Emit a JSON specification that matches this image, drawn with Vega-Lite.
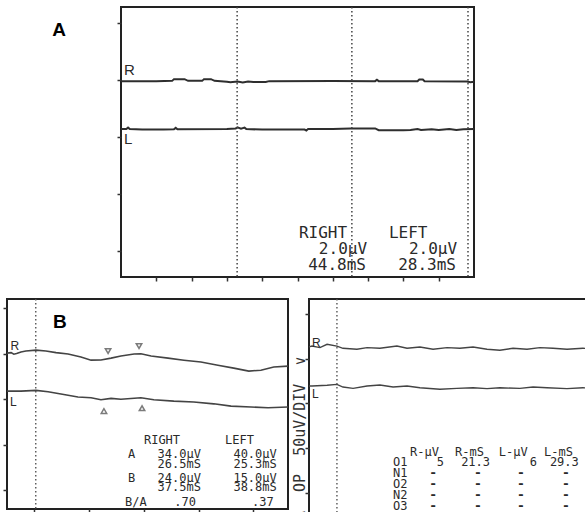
{
  "$schema": "https://vega.github.io/schema/vega-lite/v6.json",
  "padding": {"left": 1, "top": 5, "right": 0, "bottom": 0},
  "background": "white",
  "spacing": 14,
  "config": {
    "view": {"stroke": "#222", "strokeWidth": 2},
    "axis": {"labels": false, "domain": false, "grid": false, "ticks": true, "tickSize": 4, "tickColor": "#333", "tickWidth": 1.5, "title": null},
    "text": {"font": "DejaVu Sans Mono", "color": "#2a2a2a"}
  },
  "vconcat": [
    {
      "spacing": 0,
      "hconcat": [
        {
          "width": 44,
          "height": 270,
          "view": {"stroke": null},
          "data": {"values": [{"t": ""}]},
          "mark": {"type": "text"},
          "encoding": {"text": {"field": "t"}}
        },
        {
          "width": 353,
          "height": 270,
          "layer": [
            {
              "data": {"values": [
                {"side":"R","ms":0,"uv":5.96},{"side":"R","ms":10,"uv":5.96},{"side":"R","ms":14.5,"uv":5.97},{"side":"R","ms":15,"uv":6.03},{"side":"R","ms":18,"uv":6.03},{"side":"R","ms":19,"uv":5.97},{"side":"R","ms":23,"uv":5.97},{"side":"R","ms":23.5,"uv":6.03},{"side":"R","ms":25.5,"uv":6.03},{"side":"R","ms":26.5,"uv":5.97},{"side":"R","ms":30,"uv":5.94},{"side":"R","ms":31,"uv":5.92},{"side":"R","ms":33,"uv":5.95},{"side":"R","ms":34.5,"uv":5.91},{"side":"R","ms":36,"uv":5.95},{"side":"R","ms":37.5,"uv":5.93},{"side":"R","ms":41,"uv":5.93},{"side":"R","ms":42,"uv":5.96},{"side":"R","ms":60,"uv":5.965},{"side":"R","ms":72,"uv":5.96},{"side":"R","ms":72.5,"uv":6.01},{"side":"R","ms":73,"uv":5.96},{"side":"R","ms":84,"uv":5.96},{"side":"R","ms":84.5,"uv":6.02},{"side":"R","ms":85.5,"uv":6.02},{"side":"R","ms":86,"uv":5.96},{"side":"R","ms":98,"uv":5.95},{"side":"R","ms":99,"uv":5.92},{"side":"R","ms":100,"uv":5.94},
                {"side":"L","ms":0,"uv":4.28},{"side":"L","ms":1.5,"uv":4.28},{"side":"L","ms":2,"uv":4.33},{"side":"L","ms":2.5,"uv":4.28},{"side":"L","ms":6,"uv":4.26},{"side":"L","ms":12,"uv":4.26},{"side":"L","ms":15,"uv":4.27},{"side":"L","ms":15.5,"uv":4.32},{"side":"L","ms":16,"uv":4.27},{"side":"L","ms":30,"uv":4.28},{"side":"L","ms":32.5,"uv":4.3},{"side":"L","ms":33,"uv":4.34},{"side":"L","ms":34,"uv":4.29},{"side":"L","ms":35,"uv":4.33},{"side":"L","ms":35.5,"uv":4.28},{"side":"L","ms":40,"uv":4.26},{"side":"L","ms":52,"uv":4.26},{"side":"L","ms":52.5,"uv":4.23},{"side":"L","ms":53,"uv":4.28},{"side":"L","ms":60,"uv":4.28},{"side":"L","ms":65,"uv":4.3},{"side":"L","ms":72,"uv":4.3},{"side":"L","ms":73,"uv":4.24},{"side":"L","ms":80,"uv":4.24},{"side":"L","ms":82,"uv":4.25},{"side":"L","ms":84,"uv":4.28},{"side":"L","ms":85,"uv":4.25},{"side":"L","ms":88,"uv":4.27},{"side":"L","ms":90,"uv":4.25},{"side":"L","ms":93,"uv":4.28},{"side":"L","ms":95,"uv":4.25},{"side":"L","ms":97,"uv":4.27},{"side":"L","ms":100,"uv":4.28}
              ]},
              "mark": {"type": "line", "stroke": "#2e2e2e", "strokeWidth": 2},
              "encoding": {
                "x": {"field": "ms", "type": "quantitative", "scale": {"domain": [0, 100], "nice": false, "zero": false}, "axis": {"values": [10,20,30,40,50,60,70,80,90]}},
                "y": {"field": "uv", "type": "quantitative", "scale": {"domain": [-0.91, 8.56], "nice": false, "zero": false}, "axis": {"values": [0,1,2,3,4,5,6,7,8]}},
                "detail": {"field": "side"}
              }
            },
            {
              "data": {"values": [{"ms": 32.9}, {"ms": 65.4}, {"ms": 98.3}]},
              "mark": {"type": "rule", "stroke": "#444", "strokeWidth": 1.5, "strokeDash": [1.5, 2.5]},
              "encoding": {"x": {"field": "ms", "type": "quantitative", "scale": {"domain": [0, 100]}}}
            },
            {
              "data": {"values": [{"ms":0.85,"uv":6.18,"t":"R"},{"ms":0.85,"uv":3.75,"t":"L"}]},
              "mark": {"type": "text", "font": "Liberation Sans", "fontSize": 15, "align": "left", "baseline": "alphabetic"},
              "encoding": {"x": {"field": "ms", "type": "quantitative"}, "y": {"field": "uv", "type": "quantitative"}, "text": {"field": "t"}}
            },
            {
              "data": {"values": [{"ms":-19.5,"uv":7.54,"t":"A"}]},
              "mark": {"type": "text", "font": "Liberation Sans", "fontSize": 19, "fontWeight": "bold", "align": "left", "baseline": "alphabetic", "color": "#000"},
              "encoding": {"x": {"field": "ms", "type": "quantitative"}, "y": {"field": "uv", "type": "quantitative"}, "text": {"field": "t"}}
            },
            {
              "data": {"values": [{"ms":50.4,"uv":0.456,"t":"RIGHT"},{"ms":75.9,"uv":0.456,"t":"LEFT"}]},
              "mark": {"type": "text", "fontSize": 16, "align": "left", "baseline": "alphabetic"},
              "encoding": {"x": {"field": "ms", "type": "quantitative"}, "y": {"field": "uv", "type": "quantitative"}, "text": {"field": "t"}}
            },
            {
              "data": {"values": [{"ms":69.7,"uv":-0.105,"t":"2.0µV"},{"ms":95.2,"uv":-0.105,"t":"2.0µV"},{"ms":69.4,"uv":-0.667,"t":"44.8mS"},{"ms":94.9,"uv":-0.667,"t":"28.3mS"}]},
              "mark": {"type": "text", "fontSize": 16, "align": "right", "baseline": "alphabetic"},
              "encoding": {"x": {"field": "ms", "type": "quantitative"}, "y": {"field": "uv", "type": "quantitative"}, "text": {"field": "t"}}
            }
          ]
        }
      ]
    },
    {
      "spacing": -3,
      "hconcat": [
        {
          "width": 281,
          "height": 210,
          "layer": [
            {
              "data": {"values": [
                {"side":"R","ms":0,"uv":6.02},{"side":"R","ms":1.5,"uv":6.04},{"side":"R","ms":2.5,"uv":5.97},{"side":"R","ms":3.5,"uv":6.0},{"side":"R","ms":5.1,"uv":6.07},{"side":"R","ms":6.9,"uv":6.11},{"side":"R","ms":10.6,"uv":6.15},{"side":"R","ms":14.2,"uv":6.11},{"side":"R","ms":17.9,"uv":6.04},{"side":"R","ms":22.3,"uv":5.98},{"side":"R","ms":27.0,"uv":5.85},{"side":"R","ms":30.7,"uv":5.71},{"side":"R","ms":34.3,"uv":5.72},{"side":"R","ms":38.0,"uv":5.8},{"side":"R","ms":41.6,"uv":5.89},{"side":"R","ms":46.4,"uv":5.98},{"side":"R","ms":48.9,"uv":5.99},{"side":"R","ms":52.6,"uv":5.89},{"side":"R","ms":58.8,"uv":5.8},{"side":"R","ms":64.6,"uv":5.71},{"side":"R","ms":70.8,"uv":5.63},{"side":"R","ms":77.0,"uv":5.49},{"side":"R","ms":82.8,"uv":5.36},{"side":"R","ms":88.3,"uv":5.23},{"side":"R","ms":92.7,"uv":5.27},{"side":"R","ms":97.4,"uv":5.41},{"side":"R","ms":102.6,"uv":5.45},
                {"side":"L","ms":0,"uv":4.35},{"side":"L","ms":5.1,"uv":4.35},{"side":"L","ms":10.6,"uv":4.38},{"side":"L","ms":15.0,"uv":4.32},{"side":"L","ms":19.7,"uv":4.22},{"side":"L","ms":25.9,"uv":4.09},{"side":"L","ms":30.7,"uv":4.06},{"side":"L","ms":34.3,"uv":3.97},{"side":"L","ms":38.0,"uv":4.03},{"side":"L","ms":41.6,"uv":3.99},{"side":"L","ms":48.9,"uv":4.06},{"side":"L","ms":53.6,"uv":3.97},{"side":"L","ms":60.9,"uv":3.91},{"side":"L","ms":68.2,"uv":3.87},{"side":"L","ms":75.5,"uv":3.79},{"side":"L","ms":81.8,"uv":3.69},{"side":"L","ms":89.1,"uv":3.65},{"side":"L","ms":95.3,"uv":3.62},{"side":"L","ms":102.6,"uv":3.65}
              ]},
              "mark": {"type": "line", "stroke": "#444", "strokeWidth": 1.6},
              "encoding": {
                "x": {"field": "ms", "type": "quantitative", "scale": {"domain": [0, 102.6], "nice": false, "zero": false}, "axis": {"values": [10,20,30,40,50,60,70,80,90,100]}},
                "y": {"field": "uv", "type": "quantitative", "scale": {"domain": [-0.835, 8.4], "nice": false, "zero": false}, "axis": {"values": [0,1,2,3,4,5,6,7,8]}},
                "detail": {"field": "side"}
              }
            },
            {
              "data": {"values": [{"ms": 10.5}]},
              "mark": {"type": "rule", "stroke": "#555", "strokeWidth": 1.4, "strokeDash": [1.5, 2.5]},
              "encoding": {"x": {"field": "ms", "type": "quantitative", "scale": {"domain": [0, 102.6]}}}
            },
            {
              "data": {"values": [{"ms":36.9,"uv":6.11},{"ms":48.2,"uv":6.33}]},
              "mark": {"type": "point", "shape": "triangle-down", "size": 30, "filled": false, "stroke": "#444", "strokeWidth": 1.5},
              "encoding": {"x": {"field": "ms", "type": "quantitative"}, "y": {"field": "uv", "type": "quantitative"}}
            },
            {
              "data": {"values": [{"ms":35.4,"uv":3.47},{"ms":49.3,"uv":3.6}]},
              "mark": {"type": "point", "shape": "triangle-up", "size": 30, "filled": false, "stroke": "#444", "strokeWidth": 1.5},
              "encoding": {"x": {"field": "ms", "type": "quantitative"}, "y": {"field": "uv", "type": "quantitative"}}
            },
            {
              "data": {"values": [{"ms":1.3,"uv":6.15,"t":"R"},{"ms":1.1,"uv":3.69,"t":"L"}]},
              "mark": {"type": "text", "font": "Liberation Sans", "fontSize": 12, "align": "left", "baseline": "alphabetic"},
              "encoding": {"x": {"field": "ms", "type": "quantitative"}, "y": {"field": "uv", "type": "quantitative"}, "text": {"field": "t"}}
            },
            {
              "data": {"values": [{"ms":16.8,"uv":7.12,"t":"B"}]},
              "mark": {"type": "text", "font": "Liberation Sans", "fontSize": 19, "fontWeight": "bold", "align": "left", "baseline": "alphabetic", "color": "#000"},
              "encoding": {"x": {"field": "ms", "type": "quantitative"}, "y": {"field": "uv", "type": "quantitative"}, "text": {"field": "t"}}
            },
            {
              "data": {"values": [{"ms":50.0,"uv":2.02,"t":"RIGHT"},{"ms":79.6,"uv":2.02,"t":"LEFT"},{"ms":44.2,"uv":1.41,"t":"A"},{"ms":44.2,"uv":0.35,"t":"B"},{"ms":43.1,"uv":-0.7,"t":"B/A"}]},
              "mark": {"type": "text", "fontSize": 12, "align": "left", "baseline": "alphabetic"},
              "encoding": {"x": {"field": "ms", "type": "quantitative"}, "y": {"field": "uv", "type": "quantitative"}, "text": {"field": "t"}}
            },
            {
              "data": {"values": [{"ms":70.8,"uv":1.41,"t":"34.0µV"},{"ms":98.5,"uv":1.41,"t":"40.0µV"},{"ms":70.8,"uv":0.97,"t":"26.5mS"},{"ms":98.5,"uv":0.97,"t":"25.3mS"},{"ms":70.8,"uv":0.35,"t":"24.0µV"},{"ms":98.5,"uv":0.35,"t":"15.0µV"},{"ms":70.8,"uv":-0.04,"t":"37.5mS"},{"ms":98.5,"uv":-0.04,"t":"38.8mS"},{"ms":69.0,"uv":-0.7,"t":".70"},{"ms":97.4,"uv":-0.7,"t":".37"}]},
              "mark": {"type": "text", "fontSize": 12, "align": "right", "baseline": "alphabetic"},
              "encoding": {"x": {"field": "ms", "type": "quantitative"}, "y": {"field": "uv", "type": "quantitative"}, "text": {"field": "t"}}
            }
          ]
        },
        {
          "width": 278,
          "height": 214,
          "layer": [
            {
              "data": {"values": [
                {"side":"R","ms":0,"uv":6.52},{"side":"R","ms":1.1,"uv":6.56},{"side":"R","ms":4.0,"uv":6.49},{"side":"R","ms":6.6,"uv":6.64},{"side":"R","ms":10.2,"uv":6.56},{"side":"R","ms":12.4,"uv":6.46},{"side":"R","ms":17.5,"uv":6.42},{"side":"R","ms":21.2,"uv":6.49},{"side":"R","ms":25.9,"uv":6.46},{"side":"R","ms":32.1,"uv":6.56},{"side":"R","ms":35.8,"uv":6.46},{"side":"R","ms":40.5,"uv":6.52},{"side":"R","ms":45.3,"uv":6.42},{"side":"R","ms":50.4,"uv":6.49},{"side":"R","ms":55.1,"uv":6.46},{"side":"R","ms":59.9,"uv":6.52},{"side":"R","ms":65.0,"uv":6.42},{"side":"R","ms":69.7,"uv":6.37},{"side":"R","ms":74.5,"uv":6.46},{"side":"R","ms":79.6,"uv":6.42},{"side":"R","ms":84.3,"uv":6.49},{"side":"R","ms":89.1,"uv":6.46},{"side":"R","ms":94.2,"uv":6.42},{"side":"R","ms":100.0,"uv":6.46},{"side":"R","ms":101.5,"uv":6.45},
                {"side":"L","ms":0,"uv":4.78},{"side":"L","ms":1.1,"uv":4.78},{"side":"L","ms":6.6,"uv":4.81},{"side":"L","ms":10.2,"uv":4.85},{"side":"L","ms":12.4,"uv":4.73},{"side":"L","ms":16.1,"uv":4.67},{"side":"L","ms":21.2,"uv":4.78},{"side":"L","ms":25.9,"uv":4.82},{"side":"L","ms":30.7,"uv":4.73},{"side":"L","ms":35.8,"uv":4.78},{"side":"L","ms":40.5,"uv":4.7},{"side":"L","ms":47.8,"uv":4.63},{"side":"L","ms":54.0,"uv":4.67},{"side":"L","ms":59.9,"uv":4.7},{"side":"L","ms":65.0,"uv":4.66},{"side":"L","ms":69.7,"uv":4.7},{"side":"L","ms":77.0,"uv":4.67},{"side":"L","ms":81.8,"uv":4.73},{"side":"L","ms":86.9,"uv":4.7},{"side":"L","ms":94.2,"uv":4.66},{"side":"L","ms":100.0,"uv":4.7},{"side":"L","ms":101.5,"uv":4.69}
              ]},
              "mark": {"type": "line", "stroke": "#444", "strokeWidth": 1.4},
              "encoding": {
                "x": {"field": "ms", "type": "quantitative", "scale": {"domain": [0, 101.5], "nice": false, "zero": false}, "axis": null},
                "y": {"field": "uv", "type": "quantitative", "scale": {"domain": [-0.89, 8.66], "nice": false, "zero": false}, "axis": {"values": [0,1,2,3,4,5,6,7,8], "title": "∧\u00a0\u00a0OP\u00a0\u00a050uV/DIV\u00a0\u00a0∨", "titleAngle": -90, "titleX": -10, "titleY": 57, "titleAlign": "right", "titleBaseline": "middle", "titleFont": "DejaVu Sans Mono", "titleFontSize": 15, "titleFontWeight": "normal", "titleColor": "#333"}},
                "detail": {"field": "side"}
              }
            },
            {
              "data": {"values": [{"ms": 10.2}]},
              "mark": {"type": "rule", "stroke": "#555", "strokeWidth": 1.4, "strokeDash": [1.5, 2.5]},
              "encoding": {"x": {"field": "ms", "type": "quantitative", "scale": {"domain": [0, 101.5]}}}
            },
            {
              "data": {"values": [{"ms":1.1,"uv":6.52,"t":"R"},{"ms":1.1,"uv":4.24,"t":"L"}]},
              "mark": {"type": "text", "font": "Liberation Sans", "fontSize": 12, "align": "left", "baseline": "alphabetic"},
              "encoding": {"x": {"field": "ms", "type": "quantitative"}, "y": {"field": "uv", "type": "quantitative"}, "text": {"field": "t"}}
            },
            {
              "data": {"values": [{"ms":36.9,"uv":1.65,"t":"R-µV"},{"ms":53.3,"uv":1.65,"t":"R-mS"},{"ms":69.3,"uv":1.65,"t":"L-µV"},{"ms":85.8,"uv":1.65,"t":"L-mS"},{"ms":30.7,"uv":1.21,"t":"O1"},{"ms":30.7,"uv":0.71,"t":"N1"},{"ms":30.7,"uv":0.22,"t":"O2"},{"ms":30.7,"uv":-0.27,"t":"N2"},{"ms":30.7,"uv":-0.76,"t":"O3"}]},
              "mark": {"type": "text", "fontSize": 12, "align": "left", "baseline": "alphabetic"},
              "encoding": {"x": {"field": "ms", "type": "quantitative"}, "y": {"field": "uv", "type": "quantitative"}, "text": {"field": "t"}}
            },
            {
              "data": {"values": [{"ms":49.3,"uv":1.21,"t":"5"},{"ms":66.1,"uv":1.21,"t":"21.3"},{"ms":83.2,"uv":1.21,"t":"6"},{"ms":98.5,"uv":1.21,"t":"29.3"}]},
              "mark": {"type": "text", "fontSize": 12, "align": "right", "baseline": "alphabetic"},
              "encoding": {"x": {"field": "ms", "type": "quantitative"}, "y": {"field": "uv", "type": "quantitative"}, "text": {"field": "t"}}
            },
            {
              "data": {"values": [
                {"ms":45.3,"uv":0.71,"t":"-"},{"ms":61.7,"uv":0.71,"t":"-"},{"ms":77.4,"uv":0.71,"t":"-"},{"ms":93.8,"uv":0.71,"t":"-"},
                {"ms":45.3,"uv":0.22,"t":"-"},{"ms":61.7,"uv":0.22,"t":"-"},{"ms":77.4,"uv":0.22,"t":"-"},{"ms":93.8,"uv":0.22,"t":"-"},
                {"ms":45.3,"uv":-0.27,"t":"-"},{"ms":61.7,"uv":-0.27,"t":"-"},{"ms":77.4,"uv":-0.27,"t":"-"},{"ms":93.8,"uv":-0.27,"t":"-"},
                {"ms":45.3,"uv":-0.76,"t":"-"},{"ms":61.7,"uv":-0.76,"t":"-"},{"ms":77.4,"uv":-0.76,"t":"-"},{"ms":93.8,"uv":-0.76,"t":"-"}
              ]},
              "mark": {"type": "text", "fontSize": 13, "fontWeight": "bold", "align": "center", "baseline": "alphabetic"},
              "encoding": {"x": {"field": "ms", "type": "quantitative"}, "y": {"field": "uv", "type": "quantitative"}, "text": {"field": "t"}}
            }
          ]
        }
      ]
    }
  ]
}
